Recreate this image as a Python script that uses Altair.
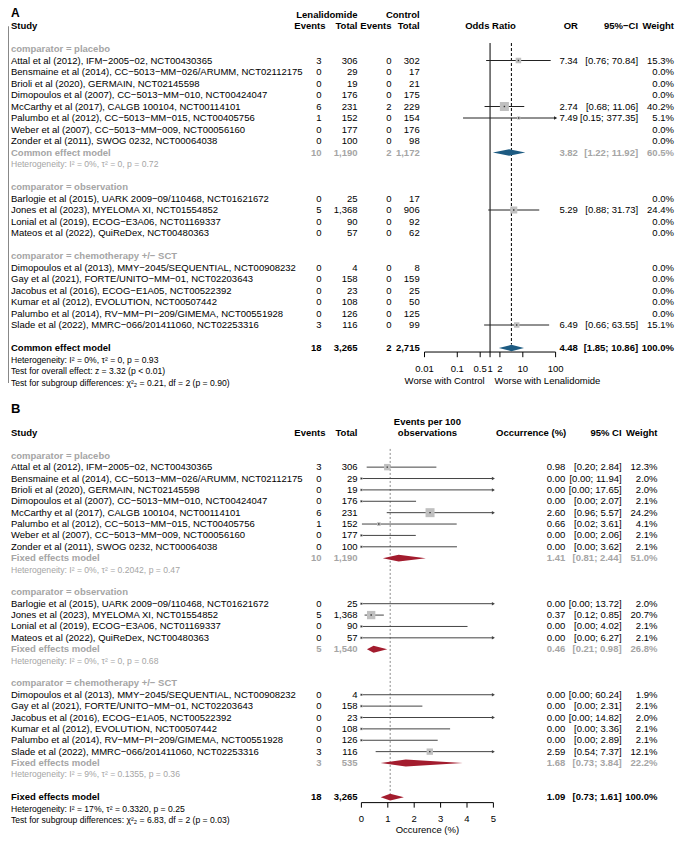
import altair as alt
import pandas as pd

FONT = "Liberation Sans"
FS = 9.5
FS_HET = 8.6
GREY = "#a5a5a5"
BLACK = "#000000"
SQ = "#c0c0c0"
LINE_A = "#222222"
LINE_B = "#444444"
DIAM_A = "#1d5b82"
DIAM_B = "#a31c2e"
LEFT = 3


def X(px):
    """measured page pixel -> chart x"""
    return round((px - 1) * 663 / 683 + LEFT, 1)


# ---------------- data ----------------
studies = [
    "Attal et al (2012), IFM−2005−02, NCT00430365",
    "Bensmaine et al (2014), CC−5013−MM−026/ARUMM, NCT02112175",
    "Brioli et al (2020), GERMAIN, NCT02145598",
    "Dimopoulos et al (2007), CC−5013−MM−010, NCT00424047",
    "McCarthy et al (2017), CALGB 100104, NCT00114101",
    "Palumbo et al (2012), CC−5013−MM−015, NCT00405756",
    "Weber et al (2007), CC−5013−MM−009, NCT00056160",
    "Zonder et al (2011), SWOG 0232, NCT00064038",
    "Barlogie et al (2015), UARK 2009−09/110468, NCT01621672",
    "Jones et al (2023), MYELOMA XI, NCT01554852",
    "Lonial et al (2019), ECOG−E3A06, NCT01169337",
    "Mateos et al (2022), QuiReDex, NCT00480363",
    "Dimopoulos et al (2013), MMY−2045/SEQUENTIAL, NCT00908232",
    "Gay et al (2021), FORTE/UNITO−MM−01, NCT02203643",
    "Jacobus et al (2016), ECOG−E1A05, NCT00522392",
    "Kumar et al (2012), EVOLUTION, NCT00507442",
    "Palumbo et al (2014), RV−MM−PI−209/GIMEMA, NCT00551928",
    "Slade et al (2022), MMRC−066/201411060, NCT02253316",
]
groups = ["comparator = placebo", "comparator = observation", "comparator = chemotherapy +/− SCT"]
group_of = [0] * 8 + [1] * 4 + [2] * 6

len_events = [3, 0, 0, 0, 6, 1, 0, 0, 0, 5, 0, 0, 0, 0, 0, 0, 0, 3]
len_total = [306, 29, 19, 176, 231, 152, 177, 100, 25, 1368, 90, 57, 4, 158, 23, 108, 126, 116]
ctl_events = [0, 0, 0, 0, 2, 0, 0, 0, 0, 0, 0, 0, 0, 0, 0, 0, 0, 0]
ctl_total = [302, 17, 21, 175, 229, 154, 176, 98, 17, 906, 92, 62, 8, 159, 25, 50, 125, 99]

or_est = [7.34, None, None, None, 2.74, 7.49, None, None, None, 5.29, None, None, None, None, None, None, None, 6.49]
or_lo = [0.76, None, None, None, 0.68, 0.15, None, None, None, 0.88, None, None, None, None, None, None, None, 0.66]
or_hi = [70.84, None, None, None, 11.06, 377.35, None, None, None, 31.73, None, None, None, None, None, None, None, 63.55]
or_w = [15.3, 0.0, 0.0, 0.0, 40.2, 5.1, 0.0, 0.0, 0.0, 24.4, 0.0, 0.0, 0.0, 0.0, 0.0, 0.0, 0.0, 15.1]

# panel A subgroup summaries (only placebo estimable)
a_sum_group = [0]
a_sum_ev1 = [10]
a_sum_n1 = [1190]
a_sum_ev2 = [2]
a_sum_n2 = [1172]
a_sum_est = [3.82]
a_sum_lo = [1.22]
a_sum_hi = [11.92]
a_sum_w = [60.5]
a_sum_het = ["Heterogeneity: I² = 0%, τ² = 0, p = 0.72"]

a_all = dict(ev1=18, n1=3265, ev2=2, n2=2715, est=4.48, lo=1.85, hi=10.86, w=100.0)
a_all_text = [
    "Heterogeneity: I² = 0%, τ² = 0, p = 0.93",
    "Test for overall effect: z = 3.32 (p < 0.01)",
    "Test for subgroup differences: χ²₂ = 0.21, df = 2 (p = 0.90)",
]
a_ticks = [0.01, 0.1, 0.5, 1, 2, 10, 100]
a_tick_labels = ["0.01", "0.1", "0.5", "1", "2", "10", "100"]

occ_est = [0.98, 0.00, 0.00, 0.00, 2.60, 0.66, 0.00, 0.00, 0.00, 0.37, 0.00, 0.00, 0.00, 0.00, 0.00, 0.00, 0.00, 2.59]
occ_lo = [0.20, 0.00, 0.00, 0.00, 0.96, 0.02, 0.00, 0.00, 0.00, 0.12, 0.00, 0.00, 0.00, 0.00, 0.00, 0.00, 0.00, 0.54]
occ_hi = [2.84, 11.94, 17.65, 2.07, 5.57, 3.61, 2.06, 3.62, 13.72, 0.85, 4.02, 6.27, 60.24, 2.31, 14.82, 3.36, 2.89, 7.37]
occ_w = [12.3, 2.0, 2.0, 2.1, 24.2, 4.1, 2.1, 2.1, 2.0, 20.7, 2.1, 2.1, 1.9, 2.1, 2.0, 2.1, 2.1, 12.1]

b_sum_ev = [10, 5, 3]
b_sum_n = [1190, 1540, 535]
b_sum_est = [1.41, 0.46, 1.68]
b_sum_lo = [0.81, 0.21, 0.73]
b_sum_hi = [2.44, 0.98, 3.84]
b_sum_w = [51.0, 26.8, 22.2]
b_sum_het = [
    "Heterogeneity: I² = 0%, τ² = 0.2042, p = 0.47",
    "Heterogeneity: I² = 0%, τ² = 0, p = 0.68",
    "Heterogeneity: I² = 9%, τ² = 0.1355, p = 0.36",
]
b_all = dict(ev=18, n=3265, est=1.09, lo=0.73, hi=1.61, w=100.0)
b_all_text = [
    "Heterogeneity: I² = 17%, τ² = 0.3320, p = 0.25",
    "Test for subgroup differences: χ²₂ = 6.83, df = 2 (p = 0.03)",
]
b_ticks = [0, 1, 2, 3, 4, 5]
b_tick_labels = ["0", "1", "2", "3", "4", "5"]


def n(v):
    return f"{v:,}"


# ---------------- build rows: panel A ----------------
rowsA = []
r = 2
for g, gname in enumerate(groups):
    rowsA.append(dict(row=r, study=gname, color=GREY, kind="bold"))
    r += 1
    for i, s in enumerate(studies):
        if group_of[i] != g:
            continue
        e = or_est[i]
        rowsA.append(dict(row=r, study=s, ev1=str(len_events[i]), n1=n(len_total[i]),
                          ev2=str(ctl_events[i]), n2=n(ctl_total[i]),
                          est="" if e is None else f"{e:.2f}",
                          ci="" if e is None else f"[{or_lo[i]:.2f}; {or_hi[i]:.2f}]",
                          w=f"{or_w[i]:.1f}%", color=BLACK, kind="normal",
                          x=e, lo=or_lo[i], hi=or_hi[i], wt=or_w[i], summ=0))
        r += 1
    if g in a_sum_group:
        j = a_sum_group.index(g)
        rowsA.append(dict(row=r, study="Common effect model", ev1=str(a_sum_ev1[j]), n1=n(a_sum_n1[j]),
                          ev2=str(a_sum_ev2[j]), n2=n(a_sum_n2[j]), est=f"{a_sum_est[j]:.2f}",
                          ci=f"[{a_sum_lo[j]:.2f}; {a_sum_hi[j]:.2f}]", w=f"{a_sum_w[j]:.1f}%",
                          color=GREY, kind="bold", x=a_sum_est[j], lo=a_sum_lo[j], hi=a_sum_hi[j], summ=1))
        r += 1
        rowsA.append(dict(row=r, study=a_sum_het[j], color=GREY, kind="het"))
        r += 1
    r += 1
rowsA.append(dict(row=r, study="Common effect model", ev1=str(a_all["ev1"]), n1=n(a_all["n1"]),
                  ev2=str(a_all["ev2"]), n2=n(a_all["n2"]), est=f"{a_all['est']:.2f}",
                  ci=f"[{a_all['lo']:.2f}; {a_all['hi']:.2f}]", w=f"{a_all['w']:.1f}%",
                  color=BLACK, kind="bold", x=a_all["est"], lo=a_all["lo"], hi=a_all["hi"], summ=1))
r += 1
for t in a_all_text:
    rowsA.append(dict(row=r, study=t, color=BLACK, kind="het"))
    r += 1

# ---------------- build rows: panel B ----------------
rowsB = []
r = 2
for g, gname in enumerate(groups):
    rowsB.append(dict(row=r, study=gname, color=GREY, kind="bold"))
    r += 1
    for i, s in enumerate(studies):
        if group_of[i] != g:
            continue
        rowsB.append(dict(row=r, study=s, ev1=str(len_events[i]), n1=n(len_total[i]),
                          est=f"{occ_est[i]:.2f}", ci=f"[{occ_lo[i]:.2f}; {occ_hi[i]:.2f}]",
                          w=f"{occ_w[i]:.1f}%", color=BLACK, kind="normal",
                          x=occ_est[i], lo=occ_lo[i], hi=occ_hi[i], wt=occ_w[i], summ=0))
        r += 1
    rowsB.append(dict(row=r, study="Fixed effects model", ev1=str(b_sum_ev[g]), n1=n(b_sum_n[g]),
                      est=f"{b_sum_est[g]:.2f}", ci=f"[{b_sum_lo[g]:.2f}; {b_sum_hi[g]:.2f}]",
                      w=f"{b_sum_w[g]:.1f}%", color=GREY, kind="bold",
                      x=b_sum_est[g], lo=b_sum_lo[g], hi=b_sum_hi[g], summ=1))
    r += 1
    rowsB.append(dict(row=r, study=b_sum_het[g], color=GREY, kind="het"))
    r += 2
rowsB.append(dict(row=r, study="Fixed effects model", ev1=str(b_all["ev"]), n1=n(b_all["n"]),
                  est=f"{b_all['est']:.2f}", ci=f"[{b_all['lo']:.2f}; {b_all['hi']:.2f}]",
                  w=f"{b_all['w']:.1f}%", color=BLACK, kind="bold",
                  x=b_all["est"], lo=b_all["lo"], hi=b_all["hi"], summ=1))
r += 1
for t in b_all_text:
    rowsB.append(dict(row=r, study=t, color=BLACK, kind="het"))
    r += 1

TEXT_COLS = ["study", "ev1", "n1", "ev2", "n2", "est", "ci", "w"]


def to_df(rows):
    df = pd.DataFrame(rows)
    for c in TEXT_COLS:
        if c not in df:
            df[c] = ""
        df[c] = df[c].fillna("")
    return df


dfA = to_df(rowsA)
dfB = to_df(rowsB)

# ---------------- scales ----------------
ySA = alt.Scale(domain=[0, 31], range=[18, 18 + 31 * 11.5], nice=False, zero=False)
B0, BS = 425, 11.38
ySB = alt.Scale(domain=[0, 34], range=[B0, B0 + 34 * BS], nice=False, zero=False)
xSA = alt.Scale(type="log", domain=[0.01, 100], range=[X(427), X(562)])
xSB = alt.Scale(domain=[0, 5], range=[X(362), X(498)], nice=False, zero=False)


def txt(df, field, x, align, ysc, weight="normal", size=FS):
    df = df[df[field] != ""]
    return alt.Chart(df).mark_text(align=align, baseline="middle", font=FONT, fontSize=size,
                                   fontWeight=weight).encode(
        x=alt.value(x), y=alt.Y("row:Q", scale=ysc, axis=None),
        text=alt.Text(f"{field}:N"), color=alt.Color("color:N", scale=None))


def table_layers(df, cols, ysc):
    out = []
    for kind, weight, size in [("normal", "normal", FS), ("bold", "bold", FS), ("het", "normal", FS_HET)]:
        sub = df[df["kind"] == kind]
        for field, x, align in cols:
            if kind == "het" and field != "study":
                continue
            out.append(txt(sub, field, x, align, ysc, weight, size))
    return out


def label(text, row, x, align, ysc, weight="bold", size=FS, color=BLACK, baseline="middle"):
    return alt.Chart(pd.DataFrame({"row": [row], "t": [text]})).mark_text(
        align=align, baseline=baseline, font=FONT, fontSize=size, fontWeight=weight, color=color
    ).encode(x=alt.value(x), y=alt.Y("row:Q", scale=ysc, axis=None), text="t:N")


layers = []

# ---------- Panel A table ----------
colsA = [("study", LEFT, "left"), ("ev1", X(321), "right"), ("n1", X(358), "right"),
         ("ev2", X(393), "right"), ("n2", X(422), "right"), ("est", X(585), "right"),
         ("ci", X(647), "right"), ("w", X(684), "right")]
layers += table_layers(dfA, colsA, ySA)
layers += [
    label("A", -18 / 11.5, LEFT, "left", ySA, size=12, baseline="top"),
    label("Lenalidomide", -0.96, X(358), "right", ySA),
    label("Control", -0.96, X(422), "right", ySA),
    label("Study", 0, LEFT, "left", ySA),
    label("Events", 0, X(325), "right", ySA),
    label("Total", 0, X(358), "right", ySA),
    label("Events", 0, X(393), "right", ySA),
    label("Total", 0, X(422), "right", ySA),
    label("Odds Ratio", 0, X(495), "center", ySA),
    label("OR", 0, X(585), "right", ySA),
    label("95%−CI", 0, X(647), "right", ySA),
    label("Weight", 0, X(684), "right", ySA),
]

# ---------- Panel A forest ----------
fA = dfA[(dfA["summ"] == 0) & dfA["x"].notna()].copy()
fA["hic"] = fA["hi"].clip(upper=max(a_ticks))
xa = lambda f: alt.X(f"{f}:Q", scale=xSA, axis=None)
ya = alt.Y("row:Q", scale=ySA, axis=None)

layers.append(alt.Chart(pd.DataFrame({"x": [1.0]})).mark_rule(color=BLACK, strokeWidth=1).encode(
    x=xa("x"), y=alt.YDatum(1.48, scale=ySA), y2=alt.Y2Datum(28.35)))
layers.append(alt.Chart(pd.DataFrame({"x": [a_all["est"]]})).mark_rule(
    color=BLACK, strokeWidth=1, strokeDash=[3, 2]).encode(
    x=xa("x"), y=alt.YDatum(1.48, scale=ySA), y2=alt.Y2Datum(27.7)))
layers.append(alt.Chart(fA).mark_rule(color=LINE_A, strokeWidth=1).encode(x=xa("lo"), x2="hic:Q", y=ya))
layers.append(alt.Chart(fA[fA["hi"] > max(a_ticks)]).mark_point(
    shape="triangle-right", filled=True, size=14, color=LINE_A, opacity=1).encode(x=xa("hic"), y=ya))
layers.append(alt.Chart(fA).mark_square(color=SQ, opacity=1).encode(
    x=xa("x"), y=ya, size=alt.Size("wt:Q", scale=alt.Scale(domain=[0, 40.2], range=[0, 81]), legend=None)))
layers.append(alt.Chart(fA).mark_square(color="#333333", size=2, opacity=1).encode(x=xa("x"), y=ya))

# diamonds A
dA = []
for k, rw in dfA[dfA["summ"] == 1].iterrows():
    dA += [dict(id=k, dx=rw["lo"], dy=rw["row"], dy2=rw["row"]),
           dict(id=k, dx=rw["x"], dy=rw["row"] - 0.28, dy2=rw["row"] + 0.28),
           dict(id=k, dx=rw["hi"], dy=rw["row"], dy2=rw["row"])]
layers.append(alt.Chart(pd.DataFrame(dA)).mark_area(orient="vertical", color=DIAM_A, opacity=1).encode(
    x=xa("dx"), y=alt.Y("dy:Q", scale=ySA, axis=None, stack=None), y2="dy2:Q", detail="id:N"))

# axis A
axA = pd.DataFrame({"t": a_ticks, "lab": a_tick_labels})
layers.append(alt.Chart(pd.DataFrame({"a": [min(a_ticks)], "b": [max(a_ticks)]})).mark_rule(
    color=BLACK).encode(x=xa("a"), x2="b:Q", y=alt.YDatum(28.35, scale=ySA)))
layers.append(alt.Chart(axA).mark_rule(color=BLACK).encode(
    x=xa("t"), y=alt.YDatum(28.35, scale=ySA), y2=alt.Y2Datum(28.8)))
layers.append(alt.Chart(axA).mark_text(font=FONT, fontSize=FS, baseline="middle", color=BLACK).encode(
    x=xa("t"), y=alt.YDatum(29.8, scale=ySA), text="lab:N"))
layers.append(label("Worse with Control", 30.85, X(489), "right", ySA, weight="normal"))
layers.append(label("Worse with Lenalidomide", 30.85, X(499), "left", ySA, weight="normal"))

# ---------- Panel B table ----------
colsB = [("study", LEFT, "left"), ("ev1", X(321), "right"), ("n1", X(358), "right"),
         ("est", X(572), "right"), ("ci", X(630), "right"), ("w", X(667), "right")]
layers += table_layers(dfB, colsB, ySB)
layers += [
    label("B", -2.1, LEFT, "left", ySB, size=13),
    label("Study", 0, LEFT, "left", ySB),
    label("Events", 0, X(325), "right", ySB),
    label("Total", 0, X(358), "right", ySB),
    label("Events per 100", -0.95, X(430), "center", ySB),
    label("observations", 0, X(430), "center", ySB),
    label("Occurrence (%)", 0, X(573), "right", ySB),
    label("95% CI", 0, X(630), "right", ySB),
    label("Weight", 0, X(667), "right", ySB),
]

# ---------- Panel B forest ----------
fB = dfB[(dfB["summ"] == 0) & dfB["x"].notna()].copy()
fB["hic"] = fB["hi"].clip(upper=max(b_ticks))
xb = lambda f: alt.X(f"{f}:Q", scale=xSB, axis=None)
yb = alt.Y("row:Q", scale=ySB, axis=None)

layers.append(alt.Chart(pd.DataFrame({"x": [b_all["est"]]})).mark_rule(
    color="#8a8a8a", strokeWidth=1, strokeDash=[2, 2]).encode(
    x=xb("x"), y=alt.YDatum(1.4, scale=ySB), y2=alt.Y2Datum(31.7)))
layers.append(alt.Chart(fB).mark_rule(color=LINE_B, strokeWidth=1).encode(x=xb("lo"), x2="hic:Q", y=yb))
layers.append(alt.Chart(fB[fB["hi"] > max(b_ticks)]).mark_point(
    shape="triangle-right", filled=True, size=12, color=LINE_B, opacity=1).encode(x=xb("hic"), y=yb))
layers.append(alt.Chart(fB).mark_square(color=SQ, opacity=1).encode(
    x=xb("x"), y=yb, size=alt.Size("wt:Q", scale=alt.Scale(domain=[0, 24.2], range=[0, 81]), legend=None)))
layers.append(alt.Chart(fB).mark_square(color="#333333", size=2, opacity=1).encode(x=xb("x"), y=yb))

dB = []
for k, rw in dfB[dfB["summ"] == 1].iterrows():
    dB += [dict(id=k, dx=rw["lo"], dy=rw["row"], dy2=rw["row"]),
           dict(id=k, dx=rw["x"], dy=rw["row"] - 0.3, dy2=rw["row"] + 0.3),
           dict(id=k, dx=rw["hi"], dy=rw["row"], dy2=rw["row"])]
layers.append(alt.Chart(pd.DataFrame(dB)).mark_area(orient="vertical", color=DIAM_B, opacity=1).encode(
    x=xb("dx"), y=alt.Y("dy:Q", scale=ySB, axis=None, stack=None), y2="dy2:Q", detail="id:N"))

axB = pd.DataFrame({"t": b_ticks, "lab": b_tick_labels})
layers.append(alt.Chart(pd.DataFrame({"a": [min(b_ticks)], "b": [max(b_ticks)]})).mark_rule(
    color=BLACK).encode(x=xb("a"), x2="b:Q", y=alt.YDatum(32.48, scale=ySB)))
layers.append(alt.Chart(axB).mark_rule(color=BLACK).encode(
    x=xb("t"), y=alt.YDatum(32.48, scale=ySB), y2=alt.Y2Datum(32.92)))
layers.append(alt.Chart(axB).mark_text(font=FONT, fontSize=FS, baseline="middle", color=BLACK).encode(
    x=xb("t"), y=alt.YDatum(33.94, scale=ySB), text="lab:N"))
layers.append(label("Occurence (%)", 34.9, X(430), "center", ySB, weight="normal"))

chart = alt.layer(*layers).resolve_scale(x="independent", y="independent", size="independent").properties(
    width=669, height=828, autosize=alt.AutoSizeParams(type="none"), padding=0
).configure_view(stroke=None)

chart.save("out.html", embed_options={"renderer": "svg", "actions": False})
